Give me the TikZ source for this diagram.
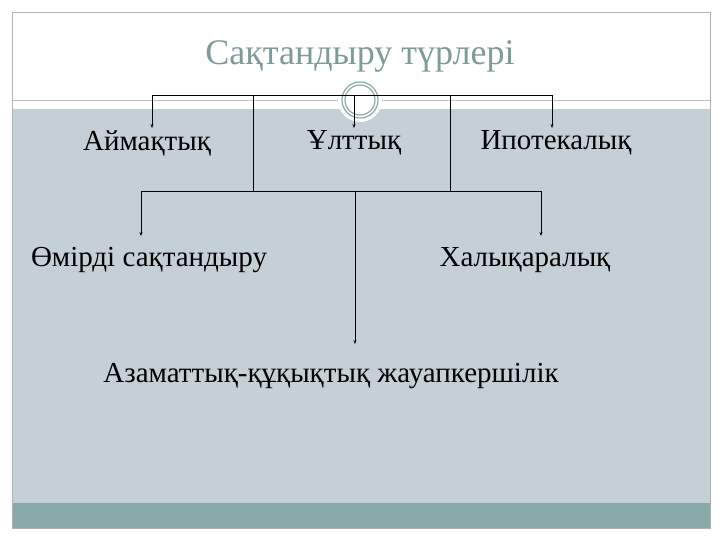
\documentclass[tikz,border=0pt]{standalone}
\usepackage{fontspec}
\setmainfont{Liberation Serif}
\usetikzlibrary{arrows.meta}
\definecolor{bandgray}{HTML}{C5CFD6}
\definecolor{teal}{HTML}{8AAAA9}
\definecolor{titlec}{HTML}{7E9A9A}
\begin{document}
\begin{tikzpicture}[x=1pt,y=-1pt,
  lbl/.style={font=\fontsize{29}{32}\selectfont, inner sep=0pt},
  conn/.style={line width=0.8pt},
  arr/.style={conn,-{Stealth[length=4pt,width=3pt]}}]
\useasboundingbox (0,0) rectangle (720,540);
\fill[white] (0,0) rectangle (720,540);
\fill[bandgray] (12,109) rectangle (710,503);
\fill[teal] (12,503) rectangle (710,528);
\draw[gray!60, line width=0.6pt] (12,12) rectangle (710,528);
\draw[gray!50, line width=0.6pt] (12,100) -- (710,100);
\fill[white] (360,100) circle (22);
\draw[teal, line width=1.2pt] (360,100) circle (18);
\draw[teal, line width=1.2pt] (360,100) circle (15);
\node[font=\fontsize{36}{40}\selectfont, text=titlec] (title) at (360,56) {Сақтандыру түрлері};
\node[lbl] (a) at (147,143) {Аймақтық};
\node[lbl] (u) at (354,143) {Ұлттық};
\node[lbl] (i) at (556,143) {Ипотекалық};
\node[lbl] (o) at (149,260) {Өмірді сақтандыру};
\node[lbl] (h) at (525,260) {Халықаралық};
\node[lbl] (z) at (331,376) {Азаматтық-құқықтық жауапкершілік};
\coordinate (tl) at (152,95); \coordinate (tr) at (552,95);
\coordinate (bl) at (141,191); \coordinate (br) at (541,191);
\draw[conn] (tl) -- (tr);
\draw[arr] (tl) -- (152,128);
\draw[arr] (tr) -- (552,128);
\draw[arr] (354,95) -- (354,128);
\draw[conn] (253,95) -- (253,191);
\draw[conn] (450,95) -- (450,191);
\draw[conn] (bl) -- (br);
\draw[arr] (bl) -- (141,236);
\draw[arr] (br) -- (541,236);
\draw[arr] (355,191) -- (355,344);
\end{tikzpicture}
\end{document}
